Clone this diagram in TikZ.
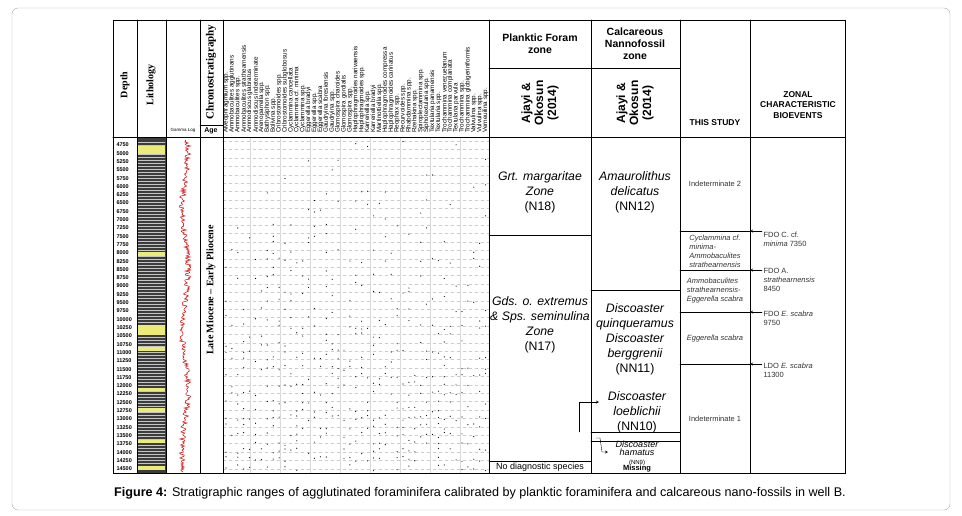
\documentclass[tikz,border=0pt]{standalone}
\usepackage{fontspec}
\setmainfont{Liberation Serif}
\setsansfont{Liberation Sans}
\usetikzlibrary{calc}
\begin{document}
\begin{tikzpicture}
		[x=1pt,y=-1pt,line cap=round,
		%Styles
		grid line/.style={gray!40,dashed,line width=.3pt},
		frame line/.style={line width=1pt},
		head text/.style={font=\sffamily\bfseries\fontsize{10.5}{12}\selectfont,align=center},
		serif head/.style={font=\rmfamily\bfseries\fontsize{10}{11}\selectfont,rotate=90},
		zone text/.style={font=\sffamily\itshape\fontsize{12.3}{15}\selectfont,align=center},
		study text/.style={font=\sffamily\itshape\fontsize{7.5}{9}\selectfont,align=left,text=black!80},
		event text/.style={font=\sffamily\fontsize{7.5}{9}\selectfont,align=left,anchor=west,text=black!80},
		depth label/.style={font=\sffamily\bfseries\fontsize{5.5}{6}\selectfont,anchor=west},
		species label/.style={font=\sffamily\fontsize{6.3}{6.3}\selectfont,rotate=90,anchor=west,inner sep=0pt},
		event arrow/.style={->,>=stealth,line width=.4pt}
		]
		
		%Colors
		\definecolor{lithogray}{RGB}{60,60,60}
		\definecolor{sandyellow}{RGB}{235,235,120}
		
		\useasboundingbox (0,0) rectangle (962,515);
		\draw[gray!70,rounded corners=6] (12,8) rectangle (950,510);
		
		%Lithology and gamma log
		\fill[lithogray] (137,137) rectangle (166,473);
		\foreach \y in {142,145,...,470}
			\draw[gray!45,line width=.1pt] (138,\y) -- (165,\y);
		\foreach \y/\h in {146/5,151/3,252/4,325/6,331/4,347/4,388/3,408/4,440/3,466/4}
			\fill[sandyellow] (138,\y) rectangle (165,\y+\h);
		\pgfmathsetseed{17}
		\draw[red!80!black,line width=.5pt] (185,140) \foreach \y in {141,142,...,472} { -- ({185+3*rand+3*sin(\y*3)},\y) };
		
		%Grid in the species area
		\foreach \y in {141.2,149.6,...,473} \draw[grid line] (223,\y) -- (489,\y);
		\foreach \x in {250,280,310,340,370,400,430,460} \draw[gray!30,line width=.3pt] (\x,137) -- (\x,473);
		
		%Depth labels
		\foreach \d [count=\i from 0] in {4750,5000,...,14500}
			\node[depth label] (d\i) at (113,{145+8.3*\i}) {\d};
		
		%Occurrences
		\pgfmathsetseed{5}
		\foreach \c in {0,...,44}{
			\foreach \r in {0,...,39}{
				\pgfmathsetmacro\p{rnd+0.012*\r}
				\ifdim\p pt>0.97pt
					\fill ({226+5.9*\c},{141+8.3*\r+6*rnd}) circle (.6);
				\fi
			}
		}
		
		%Species names
		\foreach \s [count=\i from 0] in {Alveophragmium spp.,Ammobaculites agglutinans,Ammobaculites spp.,Ammobaculites strathearnensis,Ammodiscus glabratus,Ammodiscus indeterminate,Arenoparrella spp.,Bathysiphon spp.,Bolivina spp.,Cribrostomoides spp.,Cribrostomoides subglobosus,Cyclammina cancellata,Cyclammina cf. minima,Cyclammina spp.,Eggerella bradyi,Eggerella spp.,Eggerella scabra,Gaudryina foresiensis,Gaudryina spp.,Glomospira charoides,Glomospira gordialis,Glomospira spp.,Haplophragmoides narivaensis,Haplophragmoides spp.,Karreriella spp.,Karreriella bradyi,Martinottiella spp.,Haplophragmoides compressa,Haplophragmoides carinatus,Reophax spp.,Recurvoides spp.,Rhabdammina spp.,Rzehakina spp.,Spiroplectammina spp.,Siphotextularia spp.,Textularia panamensis,Textularia spp.,Trochammina venezuelanum,Trochammina complanata,Textularia parvula,Trochammina spp.,Trochammina globigeriniformis,Valvulina spp.,Vulvulina spp.,Verneuilina spp.}
			\node[species label] (sp\i) at ({226+5.9*\i},133) {\s};
		
		%Table frame
		\draw[frame line] (113,20) rectangle (845,473);
		\foreach \x in {137,166,200,223,489,591,680,750}
			\draw[frame line] (\x,20) -- (\x,473);
		\draw[frame line] (113,137) -- (845,137);
		\draw (200,125) -- (223,125);
		\draw (489,68) -- (680,68);
		
		%Left headers
		\node[serif head] (depth) at (125,85) {Depth};
		\node[serif head] (litho) at (151,85) {Lithology};
		\node[font=\sffamily\fontsize{4.5}{5}\selectfont] (gamma) at (183,130) {Gamma Log};
		\node[serif head,font=\rmfamily\bfseries\fontsize{11}{11}\selectfont] (chrono) at (211,72) {Chronostratigraphy};
		\node[font=\sffamily\bfseries\fontsize{7}{7}\selectfont] (age) at (211,131) {Age};
		\node[serif head] (epoch) at (211,290) {Late Miocene -- Early Pliocene};
		
		%Right headers
		\node[head text] (pfhead) at (540,44) {Planktic Foram\\zone};
		\node[head text] (cnhead) at (635,44) {Calcareous\\Nannofossil\\zone};
		\node[head text,rotate=90,font=\sffamily\bfseries\fontsize{12}{13}\selectfont] (ajayi1) at (540,103) {Ajayi \&\\Okosun\\(2014)};
		\node[head text,rotate=90,font=\sffamily\bfseries\fontsize{12}{13}\selectfont] (ajayi2) at (635,103) {Ajayi \&\\Okosun\\(2014)};
		\node[head text,font=\sffamily\bfseries\fontsize{8.5}{10}\selectfont] (study) at (715,123) {THIS STUDY};
		\node[head text,font=\sffamily\bfseries\fontsize{8.5}{10.5}\selectfont] (bioev) at (798,105) {ZONAL\\CHARACTERISTIC\\BIOEVENTS};
		
		%Planktic foram zones
		\draw (489,235) -- (591,235);
		\draw (489,461) -- (591,461);
		\node[zone text] (n18) at (540,192) {Grt. margaritae\\Zone\\{\upshape(N18)}};
		\node[zone text] (n17) at (540,325) {Gds. o. extremus\\\& Sps. seminulina\\Zone\\{\upshape(N17)}};
		\node[font=\sffamily\fontsize{9}{10}\selectfont] (nodiag) at (540,467) {No diagnostic species};
		
		%Nannofossil zones
		\draw[line width=.8pt] (591,290) -- (680,290);
		\draw[line width=.8pt] (591,432) -- (680,432);
		\draw[line width=.8pt] (591,441) -- (680,441);
		\node[zone text] (nn12) at (635,192) {Amaurolithus\\delicatus\\{\upshape(NN12)}};
		\node[zone text] (nn11) at (635,339) {Discoaster\\quinqueramus\\Discoaster\\berggrenii\\{\upshape(NN11)}};
		\node[zone text] (nn10) at (637,412) {Discoaster\\loeblichii\\{\upshape(NN10)}};
		\node[zone text,font=\sffamily\itshape\fontsize{9}{8.5}\selectfont] (nn9) at (637,453) {Discoaster\\hamatus\\{\upshape\fontsize{6}{6}\selectfont(NN9)}};
		\node[font=\sffamily\bfseries\fontsize{7.5}{8}\selectfont] (missing) at (637,469) {Missing};
		\coordinate (b10) at (579,432);
		\draw[event arrow] (b10) -- (579,402) -- (599,402);
		\draw[event arrow] (596,438) -- (600,438) -- (602,452) -- (608,452);
		
		%This study
		\foreach \y in {231,270,312,364} \draw (680,\y) -- (750,\y);
		\node[font=\sffamily\fontsize{7.5}{8}\selectfont,text=black!80] (ind2) at (715,184) {Indeterminate 2};
		\node[study text] (s1) at (715,251) {Cyclammina cf.\\minima-\\Ammobaculites\\strathearnensis};
		\node[study text] (s2) at (715,291) {Ammobaculites\\strathearnensis-\\Eggerella scabra};
		\node[study text] (s3) at (715,339) {Eggerella scabra};
		\node[font=\sffamily\fontsize{7.5}{8}\selectfont,text=black!80] (ind1) at (715,419) {Indeterminate 1};
		
		%Bioevents
		\foreach \y/\name in {231/e1,270/e2,312/e3,364/e4}{
			\coordinate (\name a) at (762,\y);
			\coordinate (\name b) at (750,\y);
			\draw[event arrow] (\name a) -- (\name b);
		}
		\node[event text] (ev1) at (760,239) {FDO C. cf.\\\textit{minima} 7350};
		\node[event text] (ev2) at (760,280) {FDO A.\\\textit{strathearnensis}\\ 8450};
		\node[event text] (ev3) at (760,318) {FDO \textit{E. scabra}\\9750};
		\node[event text] (ev4) at (760,370) {LDO \textit{E. scabra}\\11300};
		
		%Caption
		\node[font=\sffamily\fontsize{12.6}{13}\selectfont] (caption) at (480,493) {\textbf{Figure 4:} Stratigraphic ranges of agglutinated foraminifera calibrated by planktic foraminifera and calcareous nano-fossils in well B.};
		
	\end{tikzpicture}
\end{document}
